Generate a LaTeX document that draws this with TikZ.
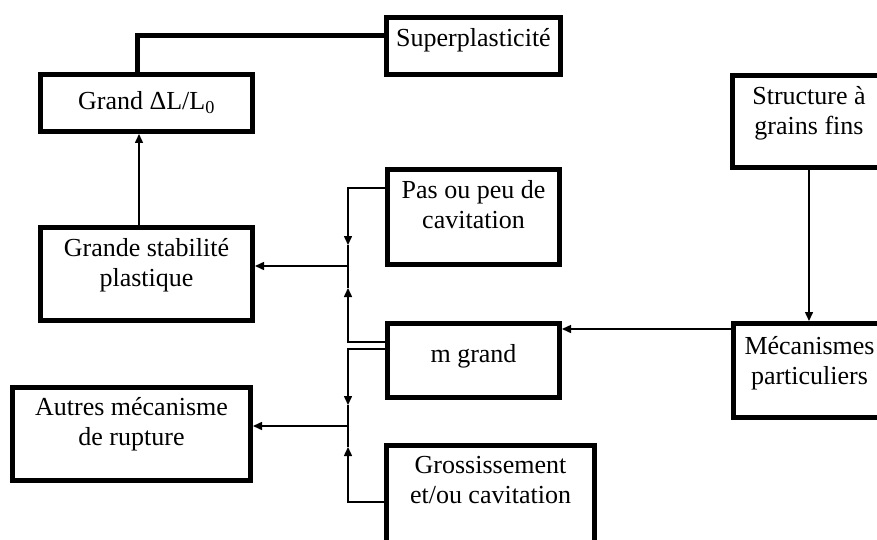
\documentclass[tikz,border=0pt]{standalone}
\usepackage{fontspec}
\setmainfont{Liberation Serif}
\usetikzlibrary{arrows.meta}
\begin{document}
\begin{tikzpicture}[x=1pt,y=-1pt,
 box/.style={draw,line width=5pt,rectangle,inner sep=0pt,outer sep=2.5pt},
 lbl/.style={font=\fontsize{26}{30}\selectfont,align=center,anchor=base,inner sep=0pt},
 conn/.style={line width=1.5pt},
 arr/.style={conn,-{Triangle[length=9pt,width=8pt]}},
 thickline/.style={line width=5pt}]
\useasboundingbox (0,0) rectangle (877,540);
\clip (0,0) rectangle (877,540);
% boxes
\node[box,minimum width=174,minimum height=57] (sup) at (473.5,46) {};
\node[box,minimum width=212,minimum height=57] (grand) at (146.5,103) {};
\node[box,minimum width=212,minimum height=93] (stab) at (146.5,274) {};
\node[box,minimum width=172,minimum height=95] (pas) at (473.5,217) {};
\node[box,minimum width=172,minimum height=74] (mgrand) at (473.5,360.5) {};
\node[box,minimum width=238,minimum height=93] (autres) at (131.5,434) {};
\node[box,minimum width=208,minimum height=97] (gros) at (490.5,494) {};
\node[box,minimum width=153,minimum height=92] (struct) at (809,121.5) {};
\node[box,minimum width=152,minimum height=94] (meca) at (809.5,370.5) {};
% labels (base anchor = baseline of the last line)
\node[lbl] (tsup) at ([yshift=-32pt]sup.north) {Superplasticité};
\node[lbl] (tgrand) at ([yshift=-38pt]grand.north) {Grand ΔL/L\textsubscript{0}};
\node[lbl] (tstab) at ([yshift=-61pt]stab.north) {Grande stabilité\\plastique};
\node[lbl] (tpas) at ([yshift=-61pt]pas.north) {Pas ou peu de\\cavitation};
\node[lbl] (tmg) at ([yshift=-41pt]mgrand.north) {m grand};
\node[lbl] (taut) at ([yshift=-60pt]autres.north) {Autres mécanisme\\de rupture};
\node[lbl] (tgros) at ([yshift=-60pt]gros.north) {Grossissement\\et/ou cavitation};
\node[lbl] (tstruct) at ([yshift=-62pt]struct.north) {Structure à\\grains fins};
\node[lbl] (tmeca) at ([yshift=-63pt]meca.north) {Mécanismes\\particuliers};
% junction coordinates
\coordinate (ja) at (348,266);
\coordinate (jb) at (348,426);
\coordinate (pa) at (348,245);
\coordinate (pb) at (348,288);
\coordinate (qa) at (348,405);
\coordinate (qb) at (348,447);
\coordinate (s1) at ([yshift=10pt]sup.west);
\coordinate (m1) at ([yshift=41.5pt]meca.west);
% connectors
\draw[thickline] ([xshift=-9.5pt]grand.north) |- (s1);
\draw[arr] ([xshift=-7.5pt]stab.north) -- ([xshift=-7.5pt]grand.south);
\draw[arr] ([yshift=29pt]pas.west) -| (pa);
\draw[conn] (pa) -- (ja);
\draw[arr] ([yshift=18.5pt]mgrand.west) -| (pb);
\draw[conn] (pb) -- (ja);
\draw[arr] (ja) -- (ja -| stab.east);
\draw[arr] ([yshift=11.5pt]mgrand.west) -| (qa);
\draw[conn] (qa) -- (jb);
\draw[arr] ([yshift=-8pt]gros.west) -| (qb);
\draw[conn] (qb) -- (jb);
\draw[arr] (jb) -- (jb -| autres.east);
\draw[arr] (struct.south) -- (struct.south |- meca.north);
\draw[arr] (m1) -- (m1 -| mgrand.east);
\end{tikzpicture}
\end{document}
